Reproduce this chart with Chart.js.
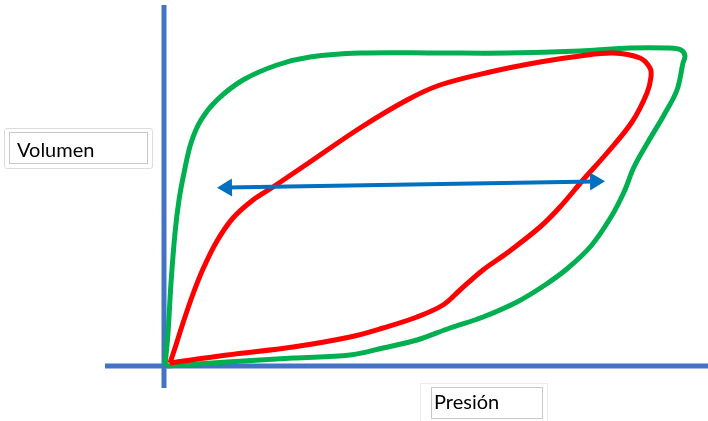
<!DOCTYPE html>
<html>
<head>
<meta charset="utf-8">
<script src="https://cdn.jsdelivr.net/npm/chart.js@4"></script>
<style>
  body { margin: 0; background: #fff; }
  #wrap { position: relative; width: 708px; height: 421px; }
  .box { position: absolute; box-sizing: border-box; }
  .lbl { position: absolute; font-family: Lato, sans-serif; font-size: 20px; line-height: 24px; color: #000; white-space: nowrap; }
</style>
</head>
<body>
<div id="wrap">
  <canvas id="myChart" width="708" height="421"></canvas>
  <div class="box" style="left:4px;top:128px;width:149px;height:41px;border:1px solid #dcdcdc;border-radius:3px;"></div>
  <div class="box" style="left:9px;top:132px;width:139px;height:32px;border:1px solid #c8c8c8;"></div>
  <div class="lbl" style="left:17px;top:137px;">Volumen</div>
  <div class="box" style="left:420px;top:383px;width:128px;height:40px;border:1px solid #ececec;border-bottom:none;"></div>
  <div class="box" style="left:431px;top:387px;width:112px;height:32px;border:1px solid #c8c8c8;"></div>
  <div class="lbl" style="left:434px;top:389px;">Presión</div>
</div>
<script>
// Loop data (pressure, volume), origin where the two axes cross
const greenP = [1, 4, 7, 11, 15, 20, 27, 37, 53, 79, 113, 146, 196, 276, 343, 416, 466, 504, 517, 521, 519, 513, 500, 484, 470, 460, 447, 427, 404, 381, 353, 319, 286, 253, 219, 186, 129, 63, 3];
const greenV = [0, 33, 83, 133, 166, 193, 223, 246, 266, 286, 301, 309, 313, 313, 313, 315, 318, 318, 316, 310, 303, 276, 251, 224, 199, 174, 149, 120, 98, 81, 64, 49, 38, 26, 18, 11, 8, 4, 0];

const redP = [6, 12, 19, 29, 39, 53, 69, 89, 109, 143, 196, 243, 276, 326, 376, 416, 449, 476, 486, 487, 483, 468, 443, 419, 396, 376, 343, 319, 296, 279, 253, 219, 186, 129, 63, 6];
const redV = [3, 21, 43, 72, 97, 125, 148, 166, 179, 202, 238, 266, 281, 294, 304, 310, 313, 308, 298, 289, 273, 244, 213, 186, 159, 139, 113, 96, 76, 61, 49, 38, 29, 19, 11, 3];

// double-headed arrow
const arrowP = [63, 431];
const arrowV = [178.5, 184.5];

// axes
const axisXP = [-59, 544];
const axisXV = [0, 0];
const axisYP = [0, 0];
const axisYV = [-22, 361];

const pts = (xs, ys) => xs.map((x, i) => ({ x: x, y: ys[i] }));

const arrowHeads = {
    id: 'arrowHeads',
    afterDatasetsDraw(chart) {
        const meta = chart.getDatasetMeta(0);
        const a = meta.data[0], b = meta.data[meta.data.length - 1];
        const ctx = chart.ctx;
        const head = (p, q) => {
            const dx = p.x - q.x, dy = p.y - q.y;
            const len = Math.hypot(dx, dy);
            const ux = dx / len, uy = dy / len;
            const tipX = p.x + ux * 10, tipY = p.y + uy * 10;
            const baseX = p.x - ux * 5, baseY = p.y - uy * 5;
            ctx.beginPath();
            ctx.moveTo(tipX, tipY);
            ctx.lineTo(baseX - uy * 9, baseY + ux * 9);
            ctx.lineTo(baseX + uy * 9, baseY - ux * 9);
            ctx.closePath();
            ctx.fill();
        };
        ctx.save();
        ctx.fillStyle = '#0070c0';
        head(a, b);
        head(b, a);
        ctx.restore();
    }
};

const ctx = document.getElementById('myChart').getContext('2d');
new Chart(ctx, {
    type: 'scatter',
    data: {
        datasets: [
            { label: 'Flecha', data: pts(arrowP, arrowV), borderColor: '#0070c0', borderWidth: 4, borderCapStyle: 'butt' },
            { label: 'Rojo', data: pts(redP, redV), borderColor: '#ff0000', borderWidth: 5, tension: 0.35 },
            { label: 'Verde', data: pts(greenP, greenV), borderColor: '#00b050', borderWidth: 5, tension: 0.35 },
            { label: 'Eje X', data: pts(axisXP, axisXV), borderColor: '#4472c4', borderWidth: 5, borderCapStyle: 'butt' },
            { label: 'Eje Y', data: pts(axisYP, axisYV), borderColor: '#4472c4', borderWidth: 5, borderCapStyle: 'butt' }
        ].map(d => Object.assign({ showLine: true, pointRadius: 0, fill: false }, d))
    },
    options: {
        responsive: false,
        animation: false,
        layout: { padding: 0 },
        plugins: { legend: { display: false }, tooltip: { enabled: false } },
        scales: {
            x: { type: 'linear', min: -164, max: 544, display: false },
            y: { type: 'linear', min: -55, max: 366, display: false }
        }
    },
    plugins: [arrowHeads]
});
</script>
</body>
</html>
